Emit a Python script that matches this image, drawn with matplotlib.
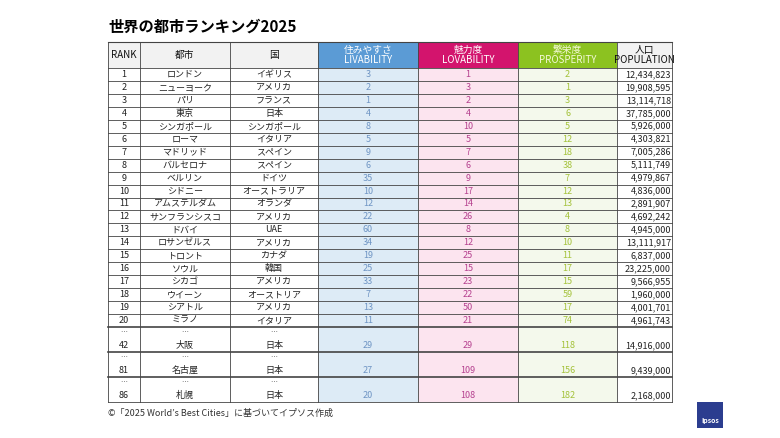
import matplotlib.pyplot as plt
from matplotlib.patches import Rectangle

plt.rcParams['font.family'] = ['Noto Sans CJK JP']

ranks = ['1','2','3','4','5','6','7','8','9','10','11','12','13','14','15','16','17','18','19','20','42','81','86']
cities = ['ロンドン','ニューヨーク','パリ','東京','シンガポール','ローマ','マドリッド','バルセロナ','ベルリン','シドニー',
          'アムステルダム','サンフランシスコ','ドバイ','ロサンゼルス','トロント','ソウル','シカゴ','ウイーン','シアトル','ミラノ',
          '大阪','名古屋','札幌']
countries = ['イギリス','アメリカ','フランス','日本','シンガポール','イタリア','スペイン','スペイン','ドイツ','オーストラリア',
             'オランダ','アメリカ','UAE','アメリカ','カナダ','韓国','アメリカ','オーストリア','アメリカ','イタリア',
             '日本','日本','日本']
livability = [3,2,1,4,8,5,9,6,35,10,12,22,60,34,19,25,33,7,13,11,29,27,20]
lovability = [1,3,2,4,10,5,7,6,9,17,14,26,8,12,25,15,23,22,50,21,29,109,108]
prosperity = [2,1,3,6,5,12,18,38,7,12,13,4,8,10,11,17,15,59,17,74,118,156,182]
population = [12434823,19908595,13114718,37785000,5926000,4303821,7005286,5111749,4979867,4836000,
              2891907,4692242,4945000,13111917,6837000,23225000,9566955,1960000,4001701,4961743,
              14916000,9439000,2168000]

W, H = 780, 438
fig = plt.figure(figsize=(7.8, 4.38), dpi=100)
ax = fig.add_axes([0, 0, 1, 1])
ax.set_xlim(0, W)
ax.set_ylim(H, 0)
ax.axis('off')

xs = [108, 140, 230, 318, 418, 518, 617, 672]
head_top, head_bot = 42, 68
row_h = 12.95
short_n = 20
tall_h = 25

# 行の境界
ys = [head_bot + i * row_h for i in range(short_n + 1)]
for i in range(3):
    ys.append(ys[-1] + tall_h)

ax.text(108, 27, '世界の都市ランキング2025', fontsize=11, fontweight='bold', va='center')

head_cols = [None, None, None, '#5b9bd5', '#d3146d', '#8cc220', None]
head_txt = ['RANK', '都市', '国', '住みやすさ\nLIVABILITY', '魅力度\nLOVABILITY', '繁栄度\nPROSPERITY', '人口\nPOPULATION']
body_bg = [None, None, None, '#ddebf6', '#fce4ef', '#f4f9ec']
body_fg = ['#222222', '#222222', '#222222', '#6f95c4', '#b5418f', '#a4c23a']

for c in range(7):
    x0, x1 = xs[c], xs[c + 1]
    fc = head_cols[c] or '#f2f2f2'
    ax.add_patch(Rectangle((x0, head_top), x1 - x0, head_bot - head_top, fc=fc, ec='none'))
    tc = 'white' if head_cols[c] else '#111111'
    if c == 5:
        tc = '#f4f9d8'
    ax.text((x0 + x1) / 2, (head_top + head_bot) / 2, head_txt[c], ha='center', va='center',
            fontsize=7, color=tc, linespacing=1.0)
    if c >= 3 and c < 6:
        ax.add_patch(Rectangle((x0, head_bot), x1 - x0, ys[-1] - head_bot, fc=body_bg[c], ec='none'))

cols = [ranks, cities, countries, livability, lovability, prosperity]
for r in range(len(ranks)):
    y0, y1 = ys[r], ys[r + 1]
    tall = r >= short_n
    yc = y1 - 6.5 if tall else (y0 + y1) / 2
    for c in range(6):
        x0, x1 = xs[c], xs[c + 1]
        ax.text((x0 + x1) / 2, yc, str(cols[c][r]), ha='center', va='center',
                fontsize=6.5, color=body_fg[c])
        if tall and c < 3:
            ax.text((x0 + x1) / 2, y0 + 5, '…', ha='center', va='center', fontsize=5, color='#555555')
    ax.text(xs[7] - 1, yc, f'{population[r]:,}', ha='right', va='center', fontsize=6.5, color='#222222')

# 罫線
for y in ys:
    lw = 1.2 if y in ys[short_n:short_n + 3] and y != ys[-1] else 0.6
    ax.plot([xs[0], xs[-1]], [y, y], color='#444444', lw=lw)
ax.plot([xs[0], xs[-1]], [head_top, head_top], color='#444444', lw=0.8)
for x in xs:
    ax.plot([x, x], [head_top, ys[-1]], color='#444444', lw=0.6)

ax.text(108, 413, '©「2025 World’s Best Cities」に基づいてイプソス作成', fontsize=6.5, va='center', color='#333333')

# ロゴ
ax.add_patch(Rectangle((697, 402), 26, 26, fc='#2b3d8f', ec='none'))
ax.text(710, 421, 'Ipsos', ha='center', va='center', fontsize=5, color='white', fontweight='bold')

fig.savefig('out.png', dpi=100)
